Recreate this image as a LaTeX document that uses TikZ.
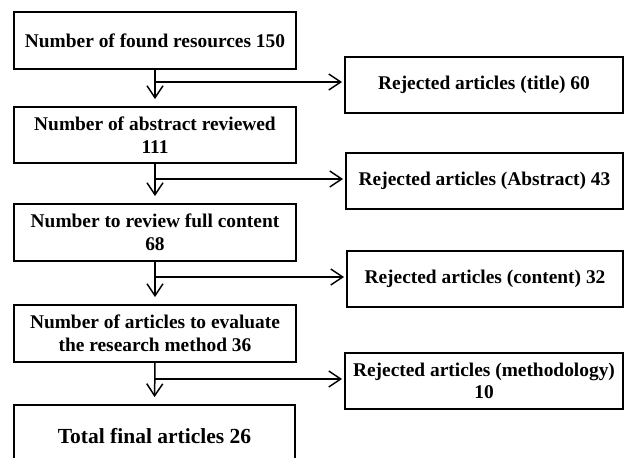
\documentclass[tikz,border=0pt]{standalone}
\usepackage{fontspec}
\setmainfont{Liberation Serif}
\usetikzlibrary{arrows.meta}
\begin{document}
\begin{tikzpicture}[x=1pt,y=-1pt,
  box/.style={draw=black, line width=1.8pt, inner sep=0pt, align=center,
    font=\fontsize{19.4}{22.6}\selectfont\bfseries},
  lbox/.style={box, minimum width=282pt, minimum height=57pt},
  rbox/.style={box, minimum width=277pt, minimum height=56pt},
  arr/.style={line width=1.5pt, -{Straight Barb[length=12pt,width=16pt,line width=1.5pt]}}
]
\clip (0,0) rectangle (625,458);
\fill[white] (0,0) rectangle (625,458);

\node[lbox] (l1) at (155,40.5) {Number of found resources 150};
\node[lbox, minimum height=56pt] (l2) at (155,135) {Number of abstract reviewed\\111};
\node[lbox] (l3) at (155,232.5) {Number to review full content\\68};
\node[lbox] (l4) at (155,333.5) {Number of articles to evaluate\\the research method 36};
\node[lbox, minimum width=281pt, minimum height=62pt, font=\fontsize{21.5}{24}\selectfont\bfseries] (l5) at (154.5,436) {Total final articles 26};

\node[rbox, minimum width=278pt] (r1) at (484,85) {Rejected articles (title) 60};
\node[rbox] (r2) at (484.5,181) {Rejected articles (Abstract) 43};
\node[rbox, minimum width=276pt] (r3) at (485,279) {Rejected articles (content) 32};
\node[rbox, minimum width=278pt] (r4) at (484,381) {Rejected articles (methodology)\\10};

\draw[arr, shorten >=7pt] (l1.south) -- (l2.north);
\draw[arr, shorten >=7pt] (l2.south) -- (l3.north);
\draw[arr, shorten >=7pt] (l3.south) -- (l4.north);
\draw[arr, shorten >=7pt] (l4.south) -- (l5.north);

\coordinate (b1) at (155,82);
\coordinate (b2) at (155,179);
\coordinate (b3) at (155,277);
\coordinate (b4) at (155,379);
\draw[arr, shorten >=2pt] (b1) -- (b1 -| r1.west);
\draw[arr, shorten >=2pt] (b2) -- (b2 -| r2.west);
\draw[arr, shorten >=2pt] (b3) -- (b3 -| r3.west);
\draw[arr, shorten >=2pt] (b4) -- (b4 -| r4.west);
\end{tikzpicture}
\end{document}
